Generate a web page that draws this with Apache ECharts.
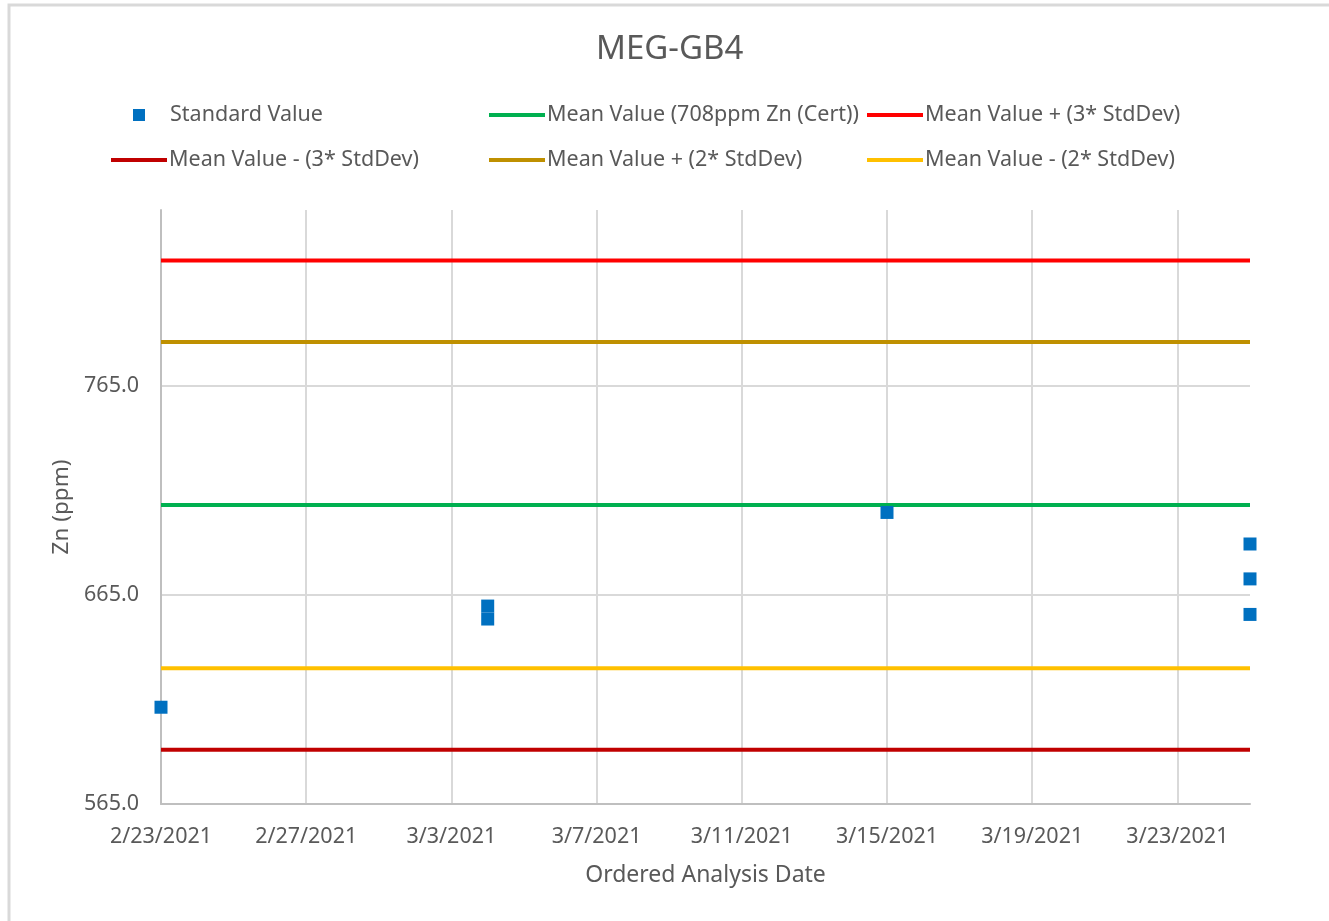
<!DOCTYPE html>
<html>
<head>
<meta charset="utf-8">
<script src="https://cdn.jsdelivr.net/npm/echarts@6/dist/echarts.min.js"></script>
<style>
html,body{margin:0;padding:0;background:#fff;}
#chart{width:1329px;height:921px;}
</style>
</head>
<body>
<div id="chart"></div>
<script>
// ---- data ----
const startDate = '2021-02-23';
const endDate = '2021-03-25';
const sampleDates = ['2021-02-23', '2021-03-04', '2021-03-04', '2021-03-15', '2021-03-25', '2021-03-25', '2021-03-25'];
const sampleValues = [611.3, 659.7, 653.5, 704.5, 689.4, 672.7, 655.7];
const lineNames = ['Mean Value (708ppm Zn (Cert))', 'Mean Value + (3* StdDev)', 'Mean Value - (3* StdDev)', 'Mean Value + (2* StdDev)', 'Mean Value - (2* StdDev)'];
const lineValues = [708, 825, 591, 786, 630];
const lineColors = ['#00B050', '#FF0000', '#C00000', '#BF9000', '#FFC000'];
const yTicks = [565, 665, 765];

const DAY = 86400000;
function toDay(s) { return (Date.parse(s + 'T00:00:00Z') - Date.parse(startDate + 'T00:00:00Z')) / DAY; }
function dayLabel(d) {
  const t = new Date(Date.parse(startDate + 'T00:00:00Z') + d * DAY);
  return (t.getUTCMonth() + 1) + '/' + t.getUTCDate() + '/' + t.getUTCFullYear();
}
const xMax = toDay(endDate);

const FONT = '"Noto Sans", "Open Sans", sans-serif';
const GRAY = '#595959';

const series = [{
  name: 'Standard Value',
  type: 'scatter',
  symbol: 'rect',
  symbolSize: 13,
  itemStyle: { color: '#0070C0', opacity: 1 },
  data: sampleDates.map((d, i) => [toDay(d), sampleValues[i]]),
  z: 5
}];
lineNames.forEach((n, i) => {
  series.push({
    name: n,
    type: 'line',
    symbol: 'none',
    lineStyle: { color: lineColors[i], width: 4 },
    itemStyle: { color: lineColors[i] },
    data: [[0, lineValues[i]], [xMax, lineValues[i]]],
    z: 3
  });
});

function legend(name, left, top, square) {
  return {
    data: [name],
    left: left,
    top: top,
    icon: 'rect',
    itemWidth: square ? 12 : 56,
    itemHeight: square ? 12 : 4,
    selectedMode: false,
    padding: 0,
    itemStyle: { opacity: 1 },
    textStyle: {
      fontFamily: FONT, fontSize: 21.5, color: GRAY,
      padding: square ? [0, 0, 0, 20] : [0, 0, 0, -3],
      lineHeight: 26
    }
  };
}

const chart = echarts.init(document.getElementById('chart'), null, { renderer: 'canvas' });
chart.setOption({
  backgroundColor: '#fff',
  animation: false,
  graphic: [{
    type: 'rect',
    shape: { x: 9, y: 5, width: 1400, height: 1000 },
    style: { fill: 'none', stroke: '#d9d9d9', lineWidth: 3 },
    silent: true
  }],
  title: {
    text: 'MEG-GB4',
    left: 596,
    top: 33,
    padding: 0,
    textStyle: { fontFamily: FONT, fontSize: 33, fontWeight: 'normal', color: GRAY }
  },
  legend: [
    legend('Standard Value', 133, 102, true),
    legend(lineNames[0], 489, 102, false),
    legend(lineNames[1], 867, 102, false),
    legend(lineNames[2], 111, 147, false),
    legend(lineNames[3], 489, 147, false),
    legend(lineNames[4], 867, 147, false)
  ],
  grid: { left: 161, right: 79, top: 210, bottom: 117, containLabel: false },
  xAxis: {
    type: 'value',
    min: 0,
    max: xMax,
    interval: 4,
    name: 'Ordered Analysis Date',
    nameLocation: 'middle',
    nameGap: 60,
    nameTextStyle: { fontFamily: FONT, fontSize: 23, color: GRAY },
    axisLine: { show: true, lineStyle: { color: '#bfbfbf', width: 2 } },
    axisTick: { show: false },
    axisLabel: {
      fontFamily: FONT, fontSize: 21.5, color: GRAY, margin: 22,
      showMaxLabel: false,
      formatter: v => (v % 4 === 0 ? dayLabel(v) : '')
    },
    splitLine: { show: true, showMaxLine: false, lineStyle: { color: '#d9d9d9', width: 2 } }
  },
  yAxis: {
    type: 'value',
    min: yTicks[0],
    max: 849.2,
    interval: 100,
    name: 'Zn (ppm)',
    nameLocation: 'middle',
    nameGap: 87,
    nameTextStyle: { fontFamily: FONT, fontSize: 22.5, color: GRAY },
    axisLine: { show: true, lineStyle: { color: '#bfbfbf', width: 2 } },
    axisTick: { show: false },
    axisLabel: {
      fontFamily: FONT, fontSize: 21.5, color: GRAY, margin: 22,
      showMaxLabel: false,
      formatter: v => (yTicks.indexOf(v) >= 0 ? v.toFixed(1) : '')
    },
    splitLine: { show: true, showMaxLine: false, showMinLine: false, lineStyle: { color: '#d9d9d9', width: 2 } }
  },
  series: series
});
</script>
</body>
</html>
